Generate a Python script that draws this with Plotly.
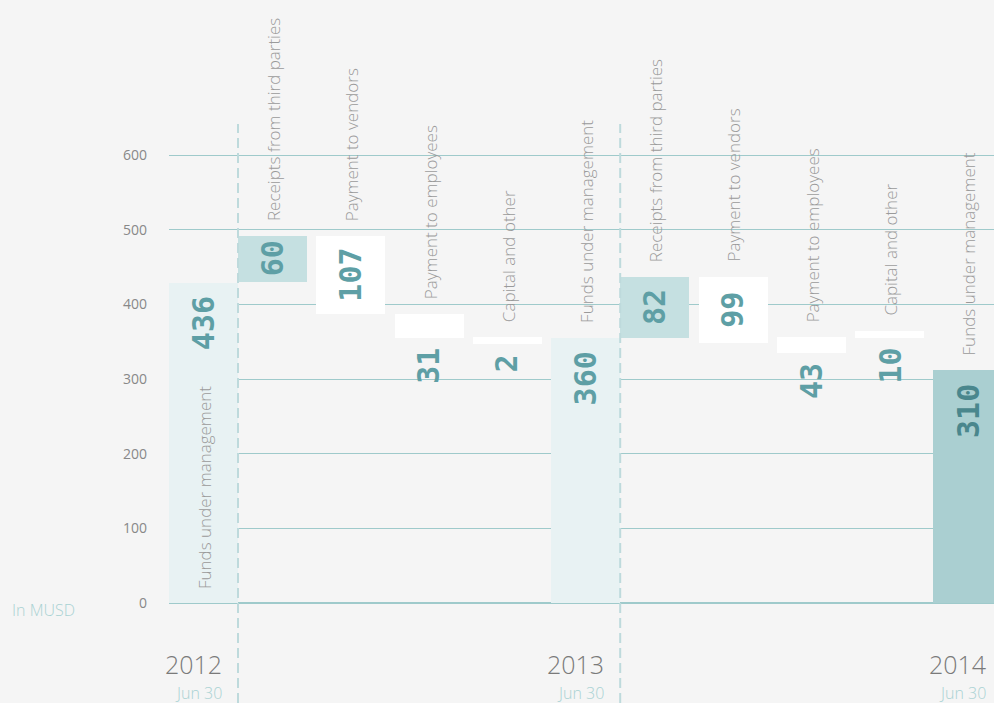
import plotly.graph_objects as go

# ---------------- data ----------------
categories = [
    "Funds under management", "Receipts from third parties", "Payment to vendors",
    "Payment to employees", "Capital and other", "Funds under management",
    "Receipts from third parties", "Payment to vendors", "Payment to employees",
    "Capital and other", "Funds under management",
]
bar_base = [0, 430.3, 387.4, 355.3, 346.9, 0, 355.3, 348.6, 335.2, 354.9, 0]
bar_top = [429.0, 491.5, 491.5, 387.0, 356.6, 355.3, 436.6, 436.6, 356.2, 364.3, 312.0]
value_labels = ["436", "60", "107", "31", "2", "360", "82", "99", "43", "10", "310"]
kinds = ["fund", "in", "out", "out", "out", "fund", "in", "out", "out", "out", "fund_end"]
value_pos = ["in", "mid", "mid", "below", "below", "in", "mid", "mid", "below", "below", "in"]
cat_pos = ["inside"] + ["above"] * 10
years = ["2012", "2013", "2014"]
year_sub = "Jun 30"
y_ticks = [0, 100, 200, 300, 400, 500, 600]
unit_label = "In MUSD"

# ---------------- layout constants ----------------
W, H = 994, 703
L = 169
PX_PER_UNIT = 448 / 600
ZERO_PX = 603
DASH_TOP_PX = 124
pitch, gap, bw = 78.3, 9.3, 69

BG = "#f5f5f5"
GRID = "#9fcacb"
fill = {"fund": "#e8f2f3", "in": "#c5e0e1", "out": "#ffffff", "fund_end": "#aacfd1"}
VAL_COL = "#5e9fa5"
VAL_COL_DARK = "#4a878d"
CAT_COL = "#9a9a9a"
YEAR_COL = "#7a7a7a"
SUB_COL = "#a9d2d3"

# positions of columns (funds bars sit flush against the following column)
lefts, nf = [], 0
for i, k in enumerate(kinds):
    lefts.append(i * pitch - gap * nf)
    if k.startswith("fund"):
        nf += 1
centers = [l + bw / 2 for l in lefts]
heights = [t - b for t, b in zip(bar_top, bar_base)]

fig = go.Figure()
fig.add_trace(go.Bar(
    x=centers, y=heights, base=bar_base, width=bw,
    marker=dict(color=[fill[k] for k in kinds], line=dict(width=0)),
    hoverinfo="skip", showlegend=False,
))

ann = []
# value labels
for i, v in enumerate(value_labels):
    pos = value_pos[i]
    col = VAL_COL_DARK if kinds[i] == "fund_end" else VAL_COL
    a = dict(x=centers[i], xref="x", yref="y", text=v, textangle=-90, showarrow=False,
             font=dict(family="DejaVu Sans Mono", size=30, color=col, weight="bold"),
             xanchor="center")
    if pos == "in":
        a.update(y=bar_top[i], yanchor="top", yshift=-12)
    elif pos == "mid":
        a.update(y=(bar_top[i] + bar_base[i]) / 2, yanchor="middle")
    else:
        a.update(y=bar_base[i], yanchor="top", yshift=-8)
    ann.append(a)

# category labels
for i, c in enumerate(categories):
    a = dict(x=centers[i] + 1, xref="x", yref="y", text=c, textangle=-90, showarrow=False,
             font=dict(family="Open Sans", size=17, color=CAT_COL, weight=300),
             xanchor="center", yanchor="bottom")
    if cat_pos[i] == "inside":
        a.update(y=0, yshift=12)
    else:
        a.update(y=bar_top[i], yshift=13)
    ann.append(a)

# year labels under funds columns
fund_idx = [i for i, k in enumerate(kinds) if k.startswith("fund")]
for yr, i in zip(years, fund_idx):
    ann.append(dict(x=centers[i], xref="x", y=0, yref="y", text=yr, showarrow=False,
                    xanchor="right", yanchor="middle", xshift=bw / 2 - 15, yshift=-61,
                    borderpad=0,
                    font=dict(family="Open Sans", size=25, color=YEAR_COL, weight=300)))
    ann.append(dict(x=centers[i], xref="x", y=0, yref="y", text=year_sub, showarrow=False,
                    xanchor="right", yanchor="middle", xshift=bw / 2 - 15, yshift=-90,
                    borderpad=0,
                    font=dict(family="Open Sans", size=16, color=SUB_COL, weight=300)))

ann.append(dict(x=(10 - L) / (W - L), xref="paper", y=0, yref="y", text=unit_label,
                showarrow=False, xanchor="left", yanchor="middle", yshift=-7,
                font=dict(family="Open Sans", size=16, color=SUB_COL, weight=300)))

y_min = -(H - ZERO_PX) / PX_PER_UNIT
y_max = ZERO_PX / PX_PER_UNIT
dash_top = (ZERO_PX - DASH_TOP_PX) / PX_PER_UNIT

shapes = []
for i in fund_idx[:2]:
    xe = lefts[i] + bw
    shapes.append(dict(type="line", xref="x", yref="y", x0=xe, x1=xe, y0=y_min, y1=dash_top,
                       line=dict(color="#bedadc", width=2, dash="10px,5px"), layer="above"))

fig.update_layout(
    width=W, height=H,
    margin=dict(l=L, r=0, t=0, b=0, pad=0),
    paper_bgcolor=BG, plot_bgcolor=BG,
    bargap=0,
    xaxis=dict(range=[0, W - L], visible=False, fixedrange=True),
    yaxis=dict(range=[y_min, y_max], tickvals=y_ticks, ticktext=[str(t) for t in y_ticks],
               showgrid=True, gridcolor=GRID, gridwidth=1,
               zeroline=True, zerolinecolor=GRID, zerolinewidth=2,
               showline=False, ticks="", ticklabelstandoff=21,
               tickfont=dict(family="Open Sans", size=14, color="#888888"),
               fixedrange=True),
    annotations=ann, shapes=shapes,
    font=dict(family="Open Sans"),
)

fig.write_html("out.html", config={"displayModeBar": False},
               post_script="document.body.style.margin='0';document.body.style.background='#f5f5f5';")
